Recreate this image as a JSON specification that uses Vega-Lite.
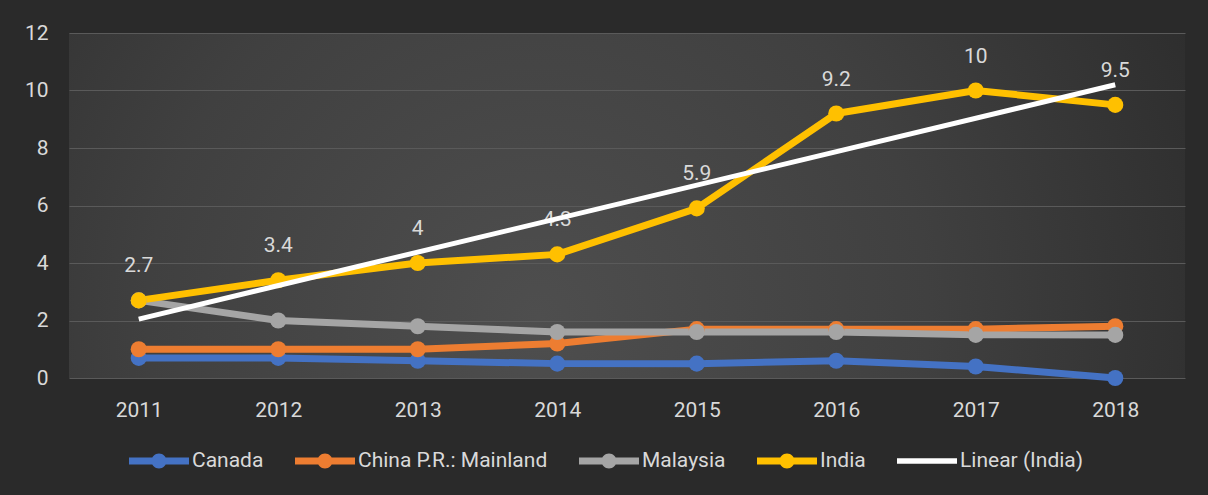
{
  "$schema": "https://vega.github.io/schema/vega-lite/v6.json",
  "autosize": "none",
  "width": 1116,
  "height": 345,
  "padding": {"left": 69, "top": 33, "right": 23, "bottom": 117},
  "background": "#2a2a2a",
  "config": {
    "font": "Roboto",
    "view": {
      "stroke": null,
      "fill": {
        "gradient": "radial",
        "x1": 0.42, "y1": 0.6, "r1": 0,
        "x2": 0.42, "y2": 0.6, "r2": 0.7,
        "stops": [
          {"offset": 0, "color": "#4e4e4e"},
          {"offset": 0.5, "color": "#404040"},
          {"offset": 1, "color": "#2a2a2a"}
        ]
      }
    },
    "axis": {
      "domain": false,
      "ticks": false,
      "title": null,
      "labelColor": "#d9d9d9",
      "labelFontSize": 21,
      "gridColor": "#5a5a5a",
      "gridWidth": 1
    },
    "legend": {
      "orient": "none",
      "legendX": 60,
      "legendY": 398,
      "direction": "horizontal",
      "title": null,
      "symbolSize": 3600,
      "symbolStrokeWidth": 0,
      "symbolOpacity": 1,
      "labelOffset": 3,
      "columnPadding": 31,
      "labelFontSize": 21,
      "labelLimit": 400,
      "labelColor": "#d9d9d9",
      "padding": 0
    }
  },
  "data": {
    "values": [
      {"series": "Canada", "year": "2011", "value": 0.7},
      {"series": "Canada", "year": "2012", "value": 0.7},
      {"series": "Canada", "year": "2013", "value": 0.6},
      {"series": "Canada", "year": "2014", "value": 0.5},
      {"series": "Canada", "year": "2015", "value": 0.5},
      {"series": "Canada", "year": "2016", "value": 0.6},
      {"series": "Canada", "year": "2017", "value": 0.4},
      {"series": "Canada", "year": "2018", "value": 0.0},
      {"series": "China P.R.: Mainland", "year": "2011", "value": 1.0},
      {"series": "China P.R.: Mainland", "year": "2012", "value": 1.0},
      {"series": "China P.R.: Mainland", "year": "2013", "value": 1.0},
      {"series": "China P.R.: Mainland", "year": "2014", "value": 1.2},
      {"series": "China P.R.: Mainland", "year": "2015", "value": 1.7},
      {"series": "China P.R.: Mainland", "year": "2016", "value": 1.7},
      {"series": "China P.R.: Mainland", "year": "2017", "value": 1.7},
      {"series": "China P.R.: Mainland", "year": "2018", "value": 1.8},
      {"series": "Malaysia", "year": "2011", "value": 2.7},
      {"series": "Malaysia", "year": "2012", "value": 2.0},
      {"series": "Malaysia", "year": "2013", "value": 1.8},
      {"series": "Malaysia", "year": "2014", "value": 1.6},
      {"series": "Malaysia", "year": "2015", "value": 1.6},
      {"series": "Malaysia", "year": "2016", "value": 1.6},
      {"series": "Malaysia", "year": "2017", "value": 1.5},
      {"series": "Malaysia", "year": "2018", "value": 1.5},
      {"series": "India", "year": "2011", "value": 2.7},
      {"series": "India", "year": "2012", "value": 3.4},
      {"series": "India", "year": "2013", "value": 4.0},
      {"series": "India", "year": "2014", "value": 4.3},
      {"series": "India", "year": "2015", "value": 5.9},
      {"series": "India", "year": "2016", "value": 9.2},
      {"series": "India", "year": "2017", "value": 10.0},
      {"series": "India", "year": "2018", "value": 9.5},
      {"series": "Linear (India)", "year": "2011", "value": 2.05},
      {"series": "Linear (India)", "year": "2018", "value": 10.2}
    ]
  },
  "encoding": {
    "x": {
      "field": "year",
      "type": "ordinal",
      "scale": {"type": "point", "padding": 0.5},
      "axis": {"labelAngle": 0, "labelPadding": 21, "grid": false}
    },
    "y": {
      "field": "value",
      "type": "quantitative",
      "scale": {"domain": [0, 12]},
      "axis": {"values": [0, 2, 4, 6, 8, 10, 12], "labelPadding": 21, "grid": true}
    }
  },
  "layer": [
    {
      "mark": {"type": "point", "filled": true, "opacity": 0},
      "encoding": {
        "color": {
          "field": "series",
          "type": "nominal",
          "scale": {
            "domain": ["Canada", "China P.R.: Mainland", "Malaysia", "India", "Linear (India)"],
            "range": ["#4472c4", "#ed7d31", "#a5a5a5", "#ffc000", "#ffffff"]
          }
        },
        "shape": {
          "field": "series",
          "type": "nominal",
          "scale": {
            "domain": ["Canada", "China P.R.: Mainland", "Malaysia", "India", "Linear (India)"],
            "range": [
              "M-1,-0.12H1V0.12H-1Z M0.25,0A0.25,0.25 0 1,1 -0.25,0A0.25,0.25 0 1,1 0.25,0Z",
              "M-1,-0.12H1V0.12H-1Z M0.25,0A0.25,0.25 0 1,1 -0.25,0A0.25,0.25 0 1,1 0.25,0Z",
              "M-1,-0.12H1V0.12H-1Z M0.25,0A0.25,0.25 0 1,1 -0.25,0A0.25,0.25 0 1,1 0.25,0Z",
              "M-1,-0.12H1V0.12H-1Z M0.25,0A0.25,0.25 0 1,1 -0.25,0A0.25,0.25 0 1,1 0.25,0Z",
              "M-1,-0.09H1V0.09H-1Z"
            ]
          }
        }
      }
    },
    {
      "transform": [{"filter": "datum.series !== 'Linear (India)'"}],
      "mark": {"type": "line", "strokeWidth": 7, "strokeJoin": "round"},
      "encoding": {
        "color": {"field": "series", "type": "nominal"}
      }
    },
    {
      "transform": [{"filter": "datum.series !== 'Linear (India)'"}],
      "mark": {"type": "point", "filled": true, "opacity": 1, "size": 260},
      "encoding": {
        "color": {"field": "series", "type": "nominal"}
      }
    },
    {
      "transform": [{"filter": "datum.series === 'India'"}],
      "mark": {"type": "text", "baseline": "middle", "dy": -34, "fontSize": 21, "color": "#d9d9d9"},
      "encoding": {
        "text": {"field": "value", "type": "quantitative"}
      }
    },
    {
      "transform": [{"filter": "datum.series === 'Linear (India)'"}],
      "mark": {"type": "line", "strokeWidth": 5, "color": "#ffffff"},
      "encoding": {}
    }
  ]
}
